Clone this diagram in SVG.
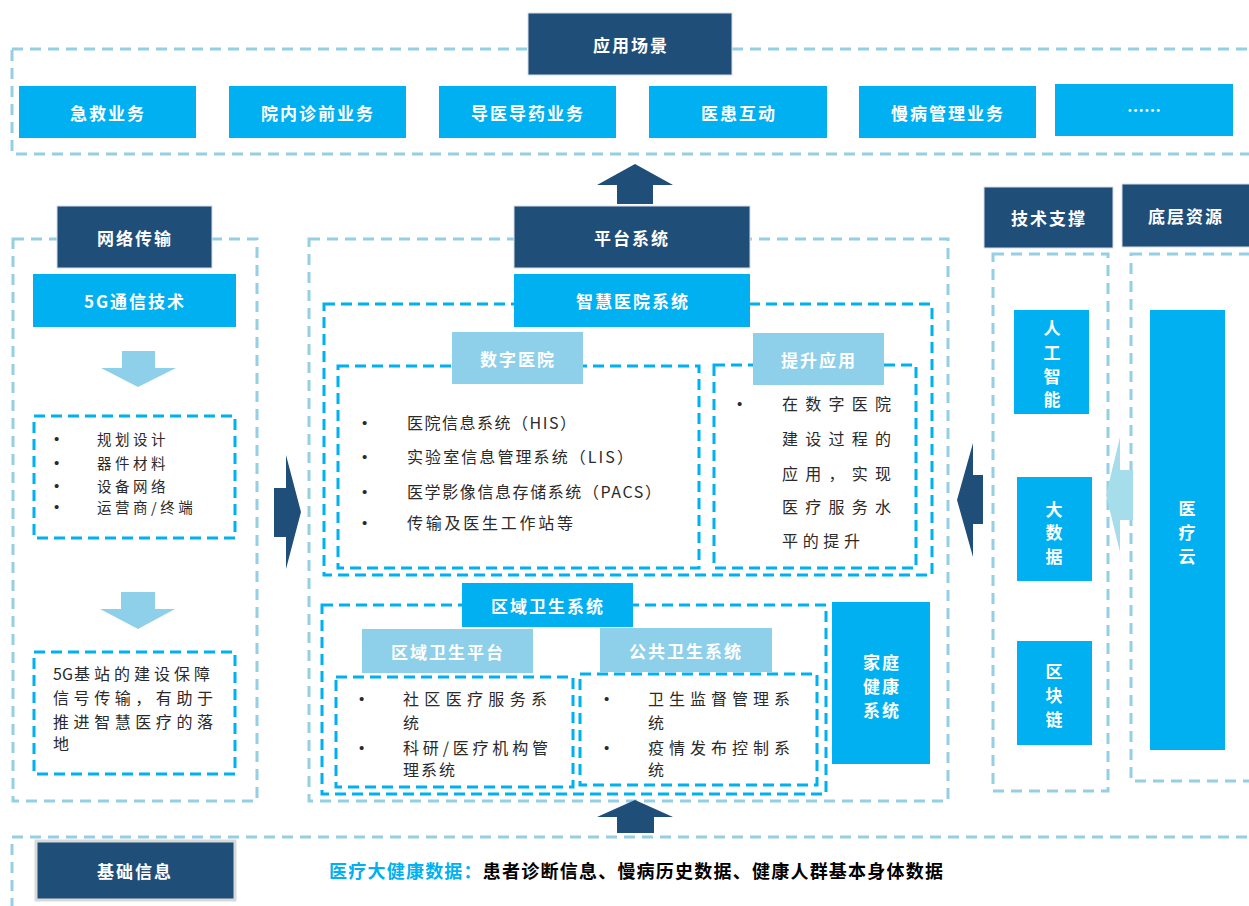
<svg xmlns="http://www.w3.org/2000/svg" width="1249" height="906" viewBox="0 0 1249 906">
<style>
.dk{fill:#1F4E79;stroke:#d6dee8;stroke-width:1}
.cy{fill:#00B0F0}
.lb{fill:#8ED0EA}
.od{fill:none;stroke:#95CFE4;stroke-width:3;stroke-dasharray:11 7}
.id{fill:none;stroke:#00B0F0;stroke-width:3;stroke-dasharray:11 6}
.t{font-family:"Noto Sans CJK SC","Noto Sans",sans-serif;font-weight:700;font-size:17px;fill:#fff;text-anchor:middle;dominant-baseline:central;letter-spacing:2px}
.b{font-family:"Noto Sans CJK SC","Noto Sans",sans-serif;font-size:16px;fill:#2a2a2a;dominant-baseline:central;letter-spacing:2px}
.s{font-family:"Noto Sans CJK SC","Noto Sans",sans-serif;font-size:14.5px;fill:#2a2a2a;dominant-baseline:central;letter-spacing:3.5px}
.bu{font-family:"Liberation Sans",Arial,sans-serif;font-size:15px;fill:#2a2a2a;dominant-baseline:central}
.v{font-family:"Noto Sans CJK SC","Noto Sans",sans-serif;font-weight:700;font-size:17px;fill:#fff;text-anchor:middle;dominant-baseline:central}
.nav{fill:#1F4E79}
.lar{fill:#8ED0EA}
.lar2{fill:#A5DEEA}
</style>
<rect width="1249" height="906" fill="#fff"/>

<!-- dashed containers -->
<g id="containers">
<rect class="od" x="12" y="49" width="1260" height="105"/>
<rect class="od" x="13" y="239" width="244" height="562"/>
<rect class="id" x="34" y="416" width="201" height="122"/>
<rect class="id" x="34" y="652" width="201" height="122"/>
<rect class="od" x="309" y="239" width="639" height="562"/>
<rect class="id" x="324" y="304" width="608" height="271"/>
<rect class="id" x="338" y="366" width="361" height="202"/>
<rect class="id" x="714" y="365" width="202" height="203"/>
<rect class="id" x="322" y="605" width="504" height="189"/>
<rect class="id" x="336" y="677" width="237" height="110"/>
<rect class="id" x="580" y="674" width="237" height="111"/>
<rect class="od" x="993" y="254" width="115" height="537"/>
<rect class="od" x="1131" y="254" width="140" height="527"/>
<rect class="od" x="12" y="837" width="1260" height="90"/>
</g>

<!-- connectors -->
<g id="connectors">
<path class="nav" d="M635,164 L673,185 L653,185 L653,204 L617,204 L617,185 L597,185 Z"/>
<path class="lar" d="M122,351 L155,351 L155,368 L176,368 L138,387 L101,368 L122,368 Z"/>
<path class="lar" d="M121,592 L155,592 L155,609 L175,609 L138,629 L100,609 L121,609 Z"/>
<path class="nav" d="M274,488 L286,488 L286,455 L301,512 L286,569 L286,537 L274,537 Z"/>
<path class="nav" d="M983,475 L973,475 L973,443 L957,500 L973,557 L973,524 L983,524 Z"/>
<path class="lar2" d="M1133,470 L1120,470 L1120,437 L1106,495 L1120,552 L1120,520 L1133,520 Z"/>
<path class="nav" d="M635,800 L673,817 L654,817 L654,833 L617,833 L617,817 L597,817 Z"/>
</g>

<!-- application scenes -->
<g id="n-yycj"><rect class="dk" x="528" y="13" width="204" height="62"/><text class="t" x="631" y="44">应用场景</text></g>
<g id="n-jjyw"><rect class="cy" x="19" y="86" width="177" height="52"/><text class="t" x="108" y="112">急救业务</text></g>
<g id="n-ynzq"><rect class="cy" x="229" y="86" width="177" height="52"/><text class="t" x="318" y="112">院内诊前业务</text></g>
<g id="n-dydy"><rect class="cy" x="439" y="86" width="177" height="52"/><text class="t" x="528" y="112">导医导药业务</text></g>
<g id="n-yhhd"><rect class="cy" x="649" y="86" width="178" height="52"/><text class="t" x="739" y="112">医患互动</text></g>
<g id="n-mbgl"><rect class="cy" x="859" y="86" width="177" height="52"/><text class="t" x="948" y="112">慢病管理业务</text></g>
<g id="n-more"><rect class="cy" x="1055" y="84" width="178" height="52"/><text class="t" x="1144" y="109" style="letter-spacing:0">……</text></g>

<!-- network -->
<g id="n-wlcs"><rect class="dk" x="57" y="206" width="155" height="62"/><text class="t" x="135" y="237">网络传输</text></g>
<g id="n-5g"><rect class="cy" x="33" y="274" width="203" height="53"/><text class="t" x="135" y="300">5G通信技术</text></g>
<g id="n-list1">
<text class="bu" x="54" y="438">•</text><text class="s" x="97" y="438">规划设计</text>
<text class="bu" x="54" y="462">•</text><text class="s" x="97" y="462">器件材料</text>
<text class="bu" x="54" y="485">•</text><text class="s" x="97" y="485">设备网络</text>
<text class="bu" x="54" y="506">•</text><text class="s" x="97" y="506">运营商/终端</text>
</g>
<g id="n-5gtext">
<text class="b" x="53" y="673" style="letter-spacing:4px"><tspan style="letter-spacing:0">5G</tspan><tspan dx="1">基站的建设保障</tspan></text>
<text class="b" x="53" y="697" textLength="160" lengthAdjust="spacing" style="letter-spacing:0">信号传输，有助于</text>
<text class="b" x="53" y="721" textLength="160" lengthAdjust="spacing" style="letter-spacing:0">推进智慧医疗的落</text>
<text class="b" x="53" y="743">地</text>
</g>

<!-- platform -->
<g id="n-ptxt"><rect class="dk" x="514" y="206" width="236" height="62"/><text class="t" x="632" y="237">平台系统</text></g>
<g id="n-zhyy"><rect class="cy" x="514" y="274" width="236" height="53"/><text class="t" x="633" y="300">智慧医院系统</text></g>
<g id="n-szyy"><rect class="lb" x="452" y="332" width="131" height="52"/><text class="t" x="518" y="358">数字医院</text></g>
<g id="n-szlist">
<text class="bu" x="362" y="422">•</text><text class="b" x="407" y="422" textLength="169" lengthAdjust="spacing" style="letter-spacing:0">医院信息系统（HIS）</text>
<text class="bu" x="362" y="456">•</text><text class="b" x="407" y="456" textLength="226" lengthAdjust="spacing" style="letter-spacing:0">实验室信息管理系统（LIS）</text>
<text class="bu" x="362" y="491">•</text><text class="b" x="407" y="491" textLength="254" lengthAdjust="spacing" style="letter-spacing:0">医学影像信息存储系统（PACS）</text>
<text class="bu" x="362" y="522">•</text><text class="b" x="407" y="522" textLength="166" lengthAdjust="spacing" style="letter-spacing:0">传输及医生工作站等</text>
</g>
<g id="n-tsyy"><rect class="lb" x="753" y="333" width="131" height="52"/><text class="t" x="819" y="359">提升应用</text></g>
<g id="n-tslist">
<text class="bu" x="737" y="403">•</text>
<text class="b" x="782" y="403" textLength="109" lengthAdjust="spacing" style="letter-spacing:0">在数字医院</text>
<text class="b" x="782" y="438" textLength="109" lengthAdjust="spacing" style="letter-spacing:0">建设过程的</text>
<text class="b" x="782" y="473" textLength="109" lengthAdjust="spacing" style="letter-spacing:0">应用，实现</text>
<text class="b" x="782" y="506" textLength="109" lengthAdjust="spacing" style="letter-spacing:0">医疗服务水</text>
<text class="b" x="782" y="540" textLength="78" lengthAdjust="spacing" style="letter-spacing:0">平的提升</text>
</g>
<g id="n-qyws"><rect class="cy" x="462" y="583" width="171" height="44"/><text class="t" x="548" y="605">区域卫生系统</text></g>
<g id="n-qypt"><rect class="lb" x="362" y="629" width="171" height="44"/><text class="t" x="448" y="651">区域卫生平台</text></g>
<g id="n-ggws"><rect class="lb" x="600" y="628" width="172" height="44"/><text class="t" x="686" y="650">公共卫生系统</text></g>
<g id="n-qylist">
<text class="bu" x="359" y="698">•</text><text class="b" x="403" y="698" textLength="144" lengthAdjust="spacing" style="letter-spacing:0">社区医疗服务系</text>
<text class="b" x="403" y="722">统</text>
<text class="bu" x="359" y="747">•</text><text class="b" x="403" y="747" textLength="145" lengthAdjust="spacing" style="letter-spacing:0">科研/医疗机构管</text>
<text class="b" x="403" y="769">理系统</text>
</g>
<g id="n-gglist">
<text class="bu" x="604" y="698">•</text><text class="b" x="648" y="698" textLength="142" lengthAdjust="spacing" style="letter-spacing:0">卫生监督管理系</text>
<text class="b" x="648" y="722">统</text>
<text class="bu" x="604" y="747">•</text><text class="b" x="648" y="747" textLength="142" lengthAdjust="spacing" style="letter-spacing:0">疫情发布控制系</text>
<text class="b" x="648" y="769">统</text>
</g>
<g id="n-jtjk"><rect class="cy" x="832" y="602" width="98" height="162"/>
<text class="t" x="882" y="661">家庭</text><text class="t" x="882" y="685">健康</text><text class="t" x="882" y="709">系统</text></g>

<!-- tech support -->
<g id="n-jszc"><rect class="dk" x="984" y="187" width="129" height="61"/><text class="t" x="1049" y="217">技术支撑</text></g>
<g id="n-rgzn"><rect class="cy" x="1014" y="310" width="75" height="104"/>
<text class="v" x="1052" y="327">人</text><text class="v" x="1052" y="351">工</text><text class="v" x="1052" y="375">智</text><text class="v" x="1052" y="398">能</text></g>
<g id="n-dsj"><rect class="cy" x="1017" y="477" width="75" height="104"/>
<text class="v" x="1054" y="508">大</text><text class="v" x="1054" y="531">数</text><text class="v" x="1054" y="555">据</text></g>
<g id="n-qkl"><rect class="cy" x="1017" y="641" width="75" height="104"/>
<text class="v" x="1054" y="670">区</text><text class="v" x="1054" y="694">块</text><text class="v" x="1054" y="718">链</text></g>

<!-- resources -->
<g id="n-dczy"><rect class="dk" x="1122" y="184" width="140" height="63"/><text class="t" x="1186" y="215">底层资源</text></g>
<g id="n-ylyun"><rect class="cy" x="1150" y="310" width="75" height="440"/>
<text class="v" x="1187" y="507">医</text><text class="v" x="1187" y="531">疗</text><text class="v" x="1187" y="555">云</text></g>

<!-- base info -->
<g id="n-jcxx"><rect x="36" y="841" width="199" height="59" fill="#1F4E79" stroke="#D9D9D9" stroke-width="3"/><text class="t" x="135" y="870">基础信息</text></g>
<g id="n-data">
<text x="329" y="870" textLength="614" lengthAdjust="spacing" style="font-family:'Noto Sans CJK SC','Noto Sans',sans-serif;font-weight:700;font-size:18px;dominant-baseline:central"><tspan fill="#00B0F0">医疗大健康数据：</tspan><tspan fill="#000">患者诊断信息、慢病历史数据、健康人群基本身体数据</tspan></text>
</g>
</svg>
